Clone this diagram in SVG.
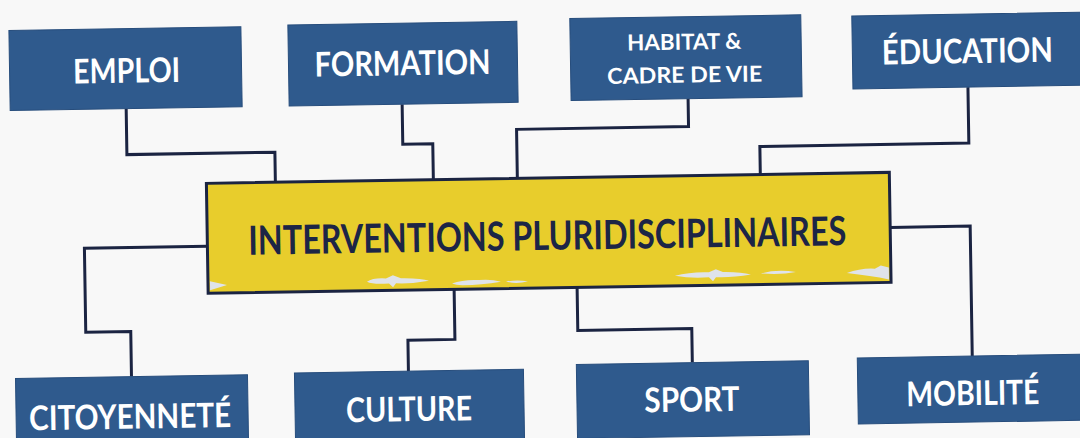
<svg xmlns="http://www.w3.org/2000/svg" width="1080" height="438" viewBox="0 0 1080 438">
<style>
.box{fill:#2f5a8d;stroke:#274d7c;stroke-width:1}
.lbl{font-family:Lato,"Open Sans","Liberation Sans",sans-serif;font-weight:700;fill:#ffffff;text-anchor:middle;font-size:34px}
.lbl2{font-size:22px}
.conn{fill:none;stroke:#1b2442;stroke-width:3;stroke-linejoin:miter}
.center{fill:#e8cd2c;stroke:#1b2442;stroke-width:3}
.ctext{font-family:Lato,"Open Sans","Liberation Sans",sans-serif;font-weight:700;fill:#1c2546;text-anchor:middle;font-size:40px}
.blob{fill:#dfe3ea}
</style>
<rect x="0" y="0" width="1080" height="438" fill="#f8f8f8"/>
<g transform="rotate(-0.92 540 219)">
<g id="connectors">
<path class="conn" d="M128 102 V148 H276 V178"/>
<path class="conn" d="M404 102 V142 H434 V178"/>
<path class="conn" d="M690 101 V129 H518 V178"/>
<path class="conn" d="M970 94 V150 H761 V178"/>
<path class="conn" d="M207 241 H84 V325 H129 V370"/>
<path class="conn" d="M453 288 V338 H406 V369"/>
<path class="conn" d="M576 288 V331 H690 V365"/>
<path class="conn" d="M890 233 H970 V363"/>
</g>
<g id="center">
<rect class="center" x="207" y="178" width="683" height="110"/>
<path class="blob" d="M209 276 L226 280 L209 285 Z"/>
<path class="blob" d="M366 279 Q372 275 385 276 L392 273 L400 276 Q420 276 428 279 Q410 282 395 281 L392 285 L388 281 Q372 282 366 279 Z"/>
<path class="blob" d="M451 282 Q462 278 478 279 Q490 278 500 281 Q480 284 462 284 Q455 284 451 282 Z"/>
<path class="blob" d="M505 281 Q515 279 527 281 Q516 284 505 281 Z"/>
<path class="blob" d="M674 278 Q690 274 708 275 L715 272 L722 275 Q740 275 750 278 Q730 281 715 280 L712 284 L708 280 Q690 281 674 278 Z"/>
<path class="blob" d="M760 277 Q775 273 795 276 Q780 279 760 277 Z"/>
<path class="blob" d="M846 278 Q860 273 874 274 L880 271 L888 273 L888 285 Q870 281 846 278 Z"/>
<text class="ctext" x="547" y="250" textLength="598" lengthAdjust="spacingAndGlyphs">INTERVENTIONS PLURIDISCIPLINAIRES</text>
</g>
<g id="emploi">
<rect class="box" x="12" y="22" width="232" height="80"/>
<text class="lbl" x="129" y="76" textLength="107" lengthAdjust="spacingAndGlyphs">EMPLOI</text>
</g>
<g id="formation">
<rect class="box" x="291" y="21" width="229" height="81"/>
<text class="lbl" x="405" y="73" textLength="176" lengthAdjust="spacingAndGlyphs">FORMATION</text>
</g>
<g id="habitat">
<rect class="box" x="573" y="19" width="231" height="82"/>
<text class="lbl lbl2" x="687" y="52" textLength="114" lengthAdjust="spacingAndGlyphs">HABITAT &amp;</text>
<text class="lbl lbl2" x="687" y="85" textLength="155" lengthAdjust="spacingAndGlyphs">CADRE DE VIE</text>
</g>
<g id="education">
<rect class="box" x="855" y="21" width="240" height="73"/>
<text class="lbl" x="970" y="70" textLength="171" lengthAdjust="spacingAndGlyphs">ÉDUCATION</text>
</g>
<g id="citoyennete">
<rect class="box" x="13" y="370" width="232" height="80"/>
<text class="lbl" x="127" y="422" textLength="202" lengthAdjust="spacingAndGlyphs">CITOYENNETÉ</text>
</g>
<g id="culture">
<rect class="box" x="292" y="369" width="229" height="80"/>
<text class="lbl" x="406" y="419" textLength="126" lengthAdjust="spacingAndGlyphs">CULTURE</text>
</g>
<g id="sport">
<rect class="box" x="574" y="365" width="232" height="74"/>
<text class="lbl" x="689" y="414" textLength="95" lengthAdjust="spacingAndGlyphs">SPORT</text>
</g>
<g id="mobilite">
<rect class="box" x="855" y="363" width="240" height="66"/>
<text class="lbl" x="970" y="412" textLength="133" lengthAdjust="spacingAndGlyphs">MOBILITÉ</text>
</g>
</g>
</svg>
